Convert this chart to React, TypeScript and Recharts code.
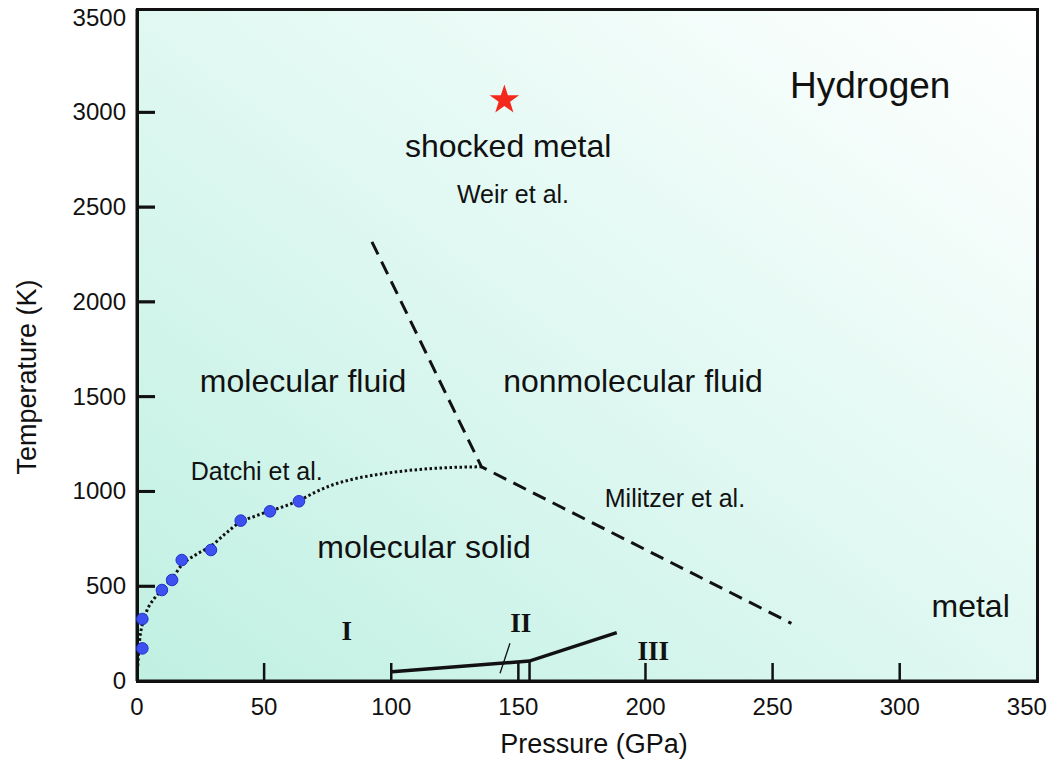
import React from "react"
import {
  ComposedChart,
  Line,
  Scatter,
  XAxis,
  YAxis,
  ReferenceLine,
  Label,
} from "recharts"

// pressure (GPa) / temperature (K)
const meltP = [0.3, 1, 2.1, 4, 6.5, 9.8, 13.8, 17.6, 23, 29.1, 35, 40.8, 46.5, 52.3, 58, 63.7, 70, 76, 85, 95, 105, 115, 125, 135.5]
const meltT = [80, 210, 300, 375, 430, 480, 540, 612, 665, 712, 780, 840, 870, 897, 922, 952, 995, 1030, 1065, 1090, 1108, 1120, 1127, 1130]

const datchiP = [2.1, 2.1, 9.8, 13.8, 17.6, 29.1, 40.8, 52.3, 63.7]
const datchiT = [172, 327, 480, 533, 638, 691, 846, 895, 948]

const boundaryP = [92.4, 135.5, 257.4]
const boundaryT = [2317, 1130, 304]

const phaseLineP = [100.3, 154.3, 188.7]
const phaseLineT = [49, 105, 255]

const phaseIIIP = [154.4, 154.4]
const phaseIIIT = [0, 105]

const pointerP = [146.7, 142.8]
const pointerT = [199, 41]

const shockP = [144.5]
const shockT = [3065]

const xTicks = [0, 50, 100, 150, 200, 250, 300, 350]
const yTicks = [0, 500, 1000, 1500, 2000, 2500, 3000, 3500]
const yInnerTicks = [500, 1000, 1500, 2000, 2500, 3000]

const regionText = ["molecular fluid", "nonmolecular fluid", "molecular solid", "shocked metal", "metal"]
const regionP = [65.3, 195.1, 112.9, 146, 327.9]
const regionT = [1525, 1525, 649, 2764, 339]

const citeText = ["Weir et al.", "Datchi et al.", "Militzer et al."]
const citeP = [147.9, 47.1, 211.6]
const citeT = [2521, 1060, 919]

const phaseText = ["I", "II", "III"]
const phaseP = [82.5, 150.9, 203.1]
const phaseT = [216, 260, 111]

const titleText = ["Hydrogen"]
const titleP = [288.4]
const titleT = [3075]

const X_MAX = 354
const Y_MAX = 3545
const FONT = "'Liberation Sans', Arial, Helvetica, sans-serif"
const INK = "#111"

// plot box (matches chart margins / axis sizes below)
const W = 1061
const H = 759
const M = { top: 9, right: 24, bottom: 0, left: 0 }
const Y_AXIS_W = 137
const X_AXIS_H = 78
const TICK_PX = 18

const zipPT = (ps: number[], ts: number[]) => ps.map((p, i) => ({ p, t: ts[i] }))
const zipText = (texts: string[], ps: number[], ts: number[]) =>
  texts.map((text, i) => ({ text, p: ps[i], t: ts[i] }))

function XTick({ x, y, payload }: any) {
  const v = payload.value
  return (
    <g>
      {v > 0 && v < 350 && <line x1={x} x2={x} y1={y} y2={y - TICK_PX} stroke={INK} strokeWidth={2.5} />}
      <text x={x} y={y + 34} textAnchor="middle" fontSize={24} fontFamily={FONT} fill={INK}>
        {v}
      </text>
    </g>
  )
}

function YTick({ x, y, payload }: any) {
  const v = payload.value
  return (
    <g>
      {v > 0 && v < 3500 && <line x1={x} x2={x + TICK_PX} y1={y} y2={y} stroke={INK} strokeWidth={2.5} />}
      <text x={x - 11} y={y + 8} textAnchor="end" fontSize={24} fontFamily={FONT} fill={INK}>
        {v}
      </text>
    </g>
  )
}

function textShape(size: number, family: string, weight: string) {
  return (props: any) => (
    <text
      x={props.cx}
      y={props.cy}
      textAnchor="middle"
      fontSize={size}
      fontFamily={family}
      fontWeight={weight}
      fill={INK}
    >
      {props.payload.text}
    </text>
  )
}

function Dot(props: any) {
  return <circle cx={props.cx} cy={props.cy} r={5.8} fill="#3d50f0" stroke="#2233c8" strokeWidth={1} />
}

function Star(props: any) {
  const R = 15.5
  const r = 6
  const pts: string[] = []
  for (let k = 0; k < 10; k++) {
    const a = (-90 + k * 36) * (Math.PI / 180)
    const rr = k % 2 === 0 ? R : r
    pts.push(`${props.cx + rr * Math.cos(a)},${props.cy + rr * Math.sin(a)}`)
  }
  return <polygon points={pts.join(" ")} fill="#f5281c" />
}

export default function App() {
  const axisLine = { stroke: INK, strokeWidth: 3 }
  const plotLeft = M.left + Y_AXIS_W
  const plotTop = M.top
  const plotW = W - plotLeft - M.right
  const plotH = H - plotTop - M.bottom - X_AXIS_H
  // inner y tick length in pressure units
  const tickLenP = (TICK_PX * X_MAX) / plotW
  return (
    <div style={{ position: "absolute", left: 0, top: 0, width: W, height: H, background: "#fff" }}>
      {/* gradient panel + frame behind the svg */}
      <div
        style={{
          position: "absolute",
          left: plotLeft - 1.5,
          top: plotTop - 1.5,
          width: plotW + 3,
          height: plotH + 3,
          boxSizing: "border-box",
          border: `3px solid ${INK}`,
          background: "linear-gradient(to top right, #c0f0e2 0%, #e3f9f3 55%, #ffffff 100%)",
        }}
      />
      <div style={{ position: "absolute", left: 0, top: 0 }}>
        <ComposedChart width={W} height={H} margin={M}>
          <XAxis
            type="number"
            dataKey="p"
            domain={[0, X_MAX]}
            ticks={xTicks}
            height={X_AXIS_H}
            tickSize={0}
            tickMargin={0}
            tickLine={false}
            axisLine={axisLine}
            tick={<XTick />}
            interval={0}
          >
            <Label
              content={({ viewBox }: any) => (
                <text
                  x={viewBox.x + viewBox.width / 2 + 7}
                  y={viewBox.y + 72}
                  textAnchor="middle"
                  fontSize={27}
                  fontFamily={FONT}
                  fill={INK}
                >
                  Pressure (GPa)
                </text>
              )}
            />
          </XAxis>
          <YAxis
            type="number"
            dataKey="t"
            domain={[0, Y_MAX]}
            ticks={yTicks}
            width={Y_AXIS_W}
            tickSize={0}
            tickMargin={0}
            tickLine={false}
            axisLine={axisLine}
            tick={<YTick />}
            interval={0}
          >
            <Label
              content={({ viewBox }: any) => {
                const cx = 36
                const cy = viewBox.y + viewBox.height / 2 + 32
                return (
                  <text
                    x={cx}
                    y={cy}
                    transform={`rotate(-90, ${cx}, ${cy})`}
                    textAnchor="middle"
                    fontSize={27}
                    fontFamily={FONT}
                    fill={INK}
                  >
                    Temperature (K)
                  </text>
                )
              }}
            />
          </YAxis>

          <Line data={zipPT(meltP, meltT)} dataKey="t" type="monotone" stroke={INK} strokeWidth={3} strokeDasharray="2.5 2.5" dot={false} isAnimationActive={false} />
          <Line data={zipPT(boundaryP, boundaryT)} dataKey="t" type="linear" stroke={INK} strokeWidth={3} strokeDasharray="14 8" dot={false} isAnimationActive={false} />
          <Line data={zipPT(phaseLineP, phaseLineT)} dataKey="t" type="linear" stroke={INK} strokeWidth={3.5} dot={false} isAnimationActive={false} />
          <Line data={zipPT(phaseIIIP, phaseIIIT)} dataKey="t" type="linear" stroke={INK} strokeWidth={2.5} dot={false} isAnimationActive={false} />
          <Line data={zipPT(pointerP, pointerT)} dataKey="t" type="linear" stroke={INK} strokeWidth={1.3} dot={false} isAnimationActive={false} />

          <Scatter data={zipPT(datchiP, datchiT)} shape={<Dot />} isAnimationActive={false} />
          <Scatter data={zipPT(shockP, shockT)} shape={<Star />} isAnimationActive={false} />

          <Scatter data={zipText(regionText, regionP, regionT)} shape={textShape(32, FONT, "normal")} isAnimationActive={false} />
          <Scatter data={zipText(citeText, citeP, citeT)} shape={textShape(25, FONT, "normal")} isAnimationActive={false} />
          <Scatter data={zipText(phaseText, phaseP, phaseT)} shape={textShape(27, "'Liberation Serif', 'Times New Roman', serif", "bold")} isAnimationActive={false} />
          <Scatter data={zipText(titleText, titleP, titleT)} shape={textShape(37, FONT, "normal")} isAnimationActive={false} />

          {yInnerTicks.map((v) => (
            <ReferenceLine
              key={"yt" + v}
              segment={[
                { x: 0, y: v },
                { x: tickLenP, y: v },
              ]}
              stroke={INK}
              strokeWidth={3}
            />
          ))}
        </ComposedChart>
      </div>
    </div>
  )
}
